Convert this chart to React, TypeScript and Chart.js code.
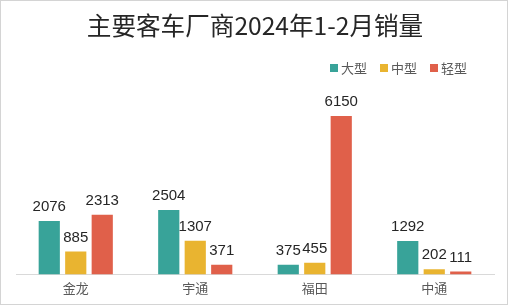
import React, { useEffect, useRef } from "react";
import { Chart, registerables } from "chart.js";

Chart.register(...registerables);

const titleText = "主要客车厂商2024年1-2月销量";
const categories = ["金龙", "宇通", "福田", "中通"];
const seriesNames = ["大型", "中型", "轻型"];
const largeValues = [2076, 2504, 375, 1292];
const mediumValues = [885, 1307, 455, 202];
const lightValues = [2313, 371, 6150, 111];
const seriesColors = ["#38A399", "#E9B430", "#E0604A"];

const valueLabels = {
  id: "valueLabels",
  afterDatasetsDraw(chart: any) {
    const ctx = chart.ctx;
    ctx.save();
    ctx.font = "15px 'Liberation Sans', Arial, sans-serif";
    ctx.fillStyle = "#262626";
    ctx.textAlign = "center";
    ctx.textBaseline = "alphabetic";
    chart.data.datasets.forEach((ds: any, i: number) => {
      const meta = chart.getDatasetMeta(i);
      meta.data.forEach((el: any, j: number) => {
        ctx.fillText(String(ds.data[j]), el.x, el.y - 10);
      });
    });
    ctx.restore();
  },
};

const customLegend = {
  id: "customLegend",
  afterDraw(chart: any) {
    const ctx = chart.ctx;
    ctx.save();
    ctx.font = "13px 'Noto Sans CJK SC', sans-serif";
    ctx.textBaseline = "middle";
    ctx.textAlign = "left";
    const box = 8;
    const gapBoxText = 3;
    const gapItems = 13;
    const rightEdge = 466;
    const cy = 67;
    const widths = seriesNames.map((n) => box + gapBoxText + ctx.measureText(n).width);
    const total = widths.reduce((a, b) => a + b, 0) + gapItems * (widths.length - 1);
    let x = rightEdge - total;
    seriesNames.forEach((n, i) => {
      ctx.fillStyle = seriesColors[i];
      ctx.fillRect(x, cy - box / 2, box, box);
      ctx.fillStyle = "#595959";
      ctx.fillText(n, x + box + gapBoxText, cy);
      x += widths[i] + gapItems;
    });
    ctx.restore();
  },
};

export default function App() {
  const ref = useRef<HTMLCanvasElement>(null);
  useEffect(() => {
    if (!ref.current) return;
    const chart = new Chart(ref.current, {
      type: "bar",
      data: {
        labels: categories,
        datasets: [largeValues, mediumValues, lightValues].map((d, i) => ({
          label: seriesNames[i],
          data: d,
          backgroundColor: seriesColors[i],
          categoryPercentage: 0.665,
          barPercentage: 0.8,
        })),
      },
      options: {
        animation: false,
        responsive: false,
        layout: { padding: { left: 15, right: 13, top: 0, bottom: 2 } },
        plugins: {
          title: {
            display: true,
            text: titleText,
            color: "#262626",
            font: { size: 24.6, family: "'Noto Sans CJK SC', sans-serif", weight: "normal" },
            padding: { top: 10, bottom: 45 },
          },
          legend: { display: false },
          tooltip: { enabled: false },
        },
        scales: {
          x: {
            grid: { display: false, drawTicks: false },
            border: { color: "#d9d9d9" },
            ticks: {
              color: "#595959",
              font: { size: 13, family: "'Noto Sans CJK SC', sans-serif" },
              padding: 6,
            },
          },
          y: {
            display: false,
            min: 0,
            max: 7330,
          },
        },
      },
      plugins: [valueLabels, customLegend],
    });
    return () => chart.destroy();
  }, []);
  return (
    <div
      style={{
        position: "fixed",
        left: 0,
        top: 0,
        width: 508,
        height: 305,
        boxSizing: "border-box",
        border: "1px solid #d4d4d4",
        background: "#fff",
      }}
    >
      <canvas ref={ref} width={506} height={303} style={{ display: "block" }} />
    </div>
  );
}
